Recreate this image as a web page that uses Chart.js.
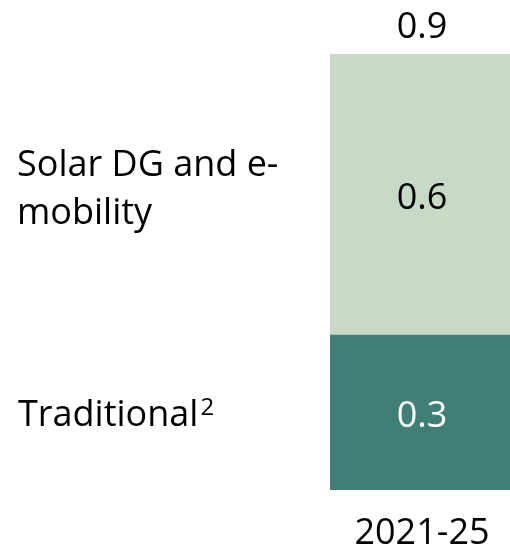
<!DOCTYPE html>
<html>
<head>
<meta charset="utf-8">
<script src="https://cdn.jsdelivr.net/npm/chart.js@4"></script>
<style>
  html, body { margin: 0; padding: 0; background: #fff; overflow: hidden; }
</style>
</head>
<body>
<canvas id="grafica" width="516" height="552"></canvas>
<script>
const periodos = ["2021-25"];
const tradicional = [0.32];
const solarDG = [0.58];
const totales = [0.9];
const nombresSeries = [["Traditional"], ["Solar DG and e-", "mobility"]];

const fuente = "'Open Sans', sans-serif";

// etiquetas de serie a la izquierda, valores dentro de la barra, total arriba y periodo abajo
const etiquetas = {
  id: "etiquetas",
  afterDatasetsDraw(chart) {
    const ctx = chart.ctx;
    ctx.save();
    ctx.font = "36px " + fuente;
    ctx.textBaseline = "alphabetic";
    chart.data.datasets.forEach((ds, i) => {
      const bar = chart.getDatasetMeta(i).data[0];
      const medio = (bar.y + bar.base) / 2;
      ctx.fillStyle = ds.colorTexto;
      ctx.textAlign = "center";
      ctx.fillText(ds.data[0].toFixed(1), bar.x, medio + 15);

      ctx.fillStyle = "#000";
      ctx.textAlign = "left";
      if (i === 0) {
        const l = nombresSeries[0][0];
        ctx.fillText(l, 18, medio + 14);
        const w = ctx.measureText(l).width;
        ctx.font = "24px " + fuente;
        ctx.fillText("2", 18 + w + 2, medio + 3);
        ctx.font = "36px " + fuente;
      } else {
        ctx.fillText(nombresSeries[1][0], 17, medio - 18);
        ctx.fillText(nombresSeries[1][1], 17, medio + 30);
      }
    });
    const x = chart.scales.x;
    const y = chart.scales.y;
    ctx.fillStyle = "#000";
    ctx.textAlign = "center";
    ctx.fillText(totales[0].toFixed(1), x.getPixelForTick(0), y.getPixelForValue(totales[0]) - 16);
    ctx.fillText(periodos[0], x.getPixelForTick(0), y.getPixelForValue(0) + 54);
    ctx.restore();
  },
};

window.onload = () => {
  new Chart(document.getElementById("grafica"), {
    type: "bar",
    data: {
      labels: periodos,
      datasets: [
        { label: "Traditional", data: tradicional, backgroundColor: "#417E76", colorTexto: "#fff" },
        { label: "Solar DG and e-mobility", data: solarDG, backgroundColor: "#C9D9C8", colorTexto: "#000" },
      ],
    },
    options: {
      responsive: false,
      animation: false,
      events: [],
      layout: { padding: { top: 54, left: 330, right: 2, bottom: 62 } },
      datasets: { bar: { categoryPercentage: 1, barPercentage: 1 } },
      plugins: { legend: { display: false }, tooltip: { enabled: false } },
      scales: {
        x: { stacked: true, display: false },
        y: { stacked: true, display: false, min: 0, max: 0.9 },
      },
    },
    plugins: [etiquetas],
  });
};
</script>
</body>
</html>
